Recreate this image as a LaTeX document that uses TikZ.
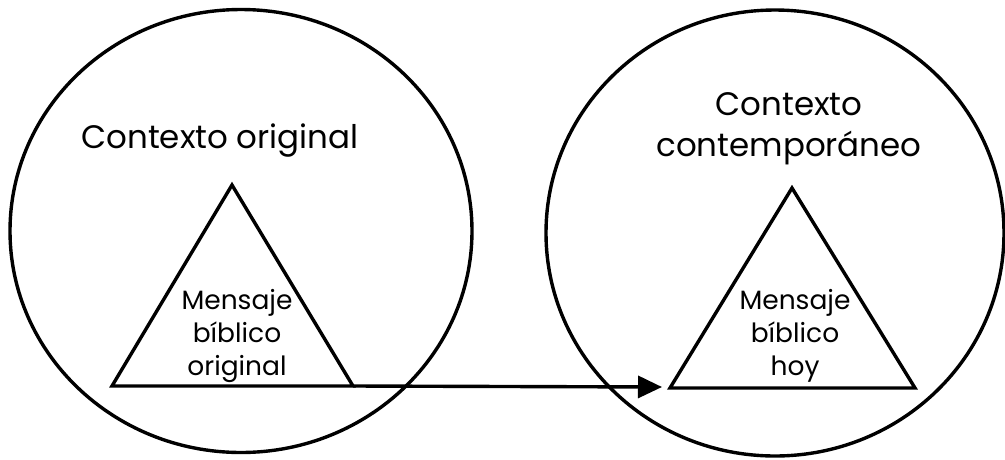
\documentclass[tikz,border=0pt]{standalone}
\usepackage{fontspec}
\setmainfont{Poppins}
\usetikzlibrary{arrows.meta,shapes.geometric}
\tikzset{
  ring/.style={draw, line width=3.4pt, ellipse, inner sep=0pt},
  edge/.style={line width=3.4pt, line join=miter},
  heading/.style={font=\fontsize{32.5}{41}\selectfont, align=center, inner sep=0pt},
  inner/.style={font=\fontsize{26.5}{33}\selectfont, align=center, inner sep=0pt},
  link/.style={line width=3.4pt, -{Triangle[length=24pt,width=22pt]}}
}
\begin{document}
\begin{tikzpicture}[x=1pt,y=-1pt]
\useasboundingbox (0,0) rectangle (1005,459);
% two contexts
\node[ring, minimum width=462pt, minimum height=443pt] (left) at (241,231) {};
\node[ring, minimum width=458pt, minimum height=446pt] (right) at (775,233) {};
% triangle corners
\coordinate (la) at (232,185);
\coordinate (lb) at (112,386);
\coordinate (lc) at (353,386);
\coordinate (ra) at (792,188);
\coordinate (rb) at (670,388);
\coordinate (rc) at (915,388);
\draw[edge] (la) -- (lb) -- (lc) -- cycle;
\draw[edge] (ra) -- (rb) -- (rc) -- cycle;
% labels
\node[heading] (lt) at (220,141) {Contexto original};
\node[heading] (rt) at (789,129) {Contexto\\contemporáneo};
\node[inner] (lm) at (237,336) {Mensaje\\bíblico\\original};
\node[inner] (rm) at (795,336) {Mensaje\\bíblico\\hoy};
% transfer arrow
\coordinate (tip) at (662,387);
\draw[link] (lc) -- (tip);
\end{tikzpicture}
\end{document}
